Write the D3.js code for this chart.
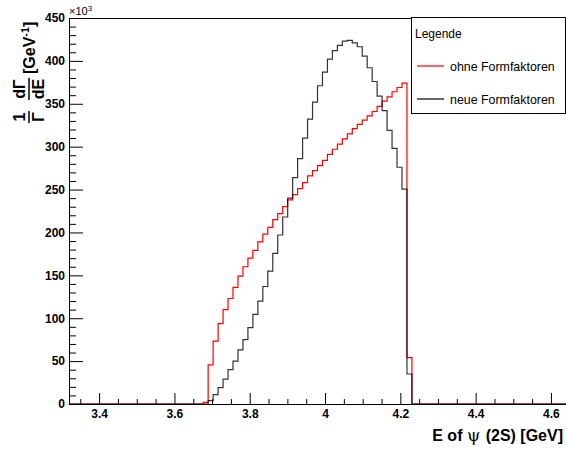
<!DOCTYPE html>
<html>
<head>
<meta charset="utf-8">
<script src="https://cdn.jsdelivr.net/npm/d3@7"></script>
<style>
  body { margin: 0; background: #fff; }
  text { font-family: "Liberation Sans", Arial, sans-serif; }
</style>
</head>
<body>
<div id="chart"></div>
<script>
// binning of the histograms (GeV)
const xMin = 3.32, xMax = 4.64, nBins = 100;

// bin contents in units of 10^3 (first filled bin given separately)
const redFirstBin = 27;
const redValues = [2, 45.5, 73.4, 93.6, 110, 123, 136, 149, 160, 170, 179, 189, 198, 206,
  215, 222, 230, 238, 244, 251, 258, 266, 272, 278, 284, 291, 297, 303, 309, 315, 321,
  326, 331, 336, 341, 347, 353, 358, 364, 369, 374, 54];
const blackFirstBin = 28;
const blackValues = [4, 11, 19, 29, 40, 50, 63, 75, 89, 104.5, 120, 137, 155, 175.6, 197,
  218, 240, 264, 286, 310, 332, 352, 371, 387, 402, 412, 418, 423, 424, 421, 416.5, 405.6,
  392, 376, 359, 342, 319, 298, 276, 250.6, 35];

const xTicks = [3.4, 3.6, 3.8, 4.0, 4.2, 4.4, 4.6];
const yTicks = [0, 50, 100, 150, 200, 250, 300, 350, 400, 450];
const legendLabels = ["ohne Formfaktoren", "neue Formfaktoren"];
const colors = ["#ff0000", "#000000"];

// layout
const W = 566, H = 452;
const margin = { top: 18, left: 69, bottom: 48 };
const plotBottom = H - margin.bottom;

const svg = d3.select("#chart").append("svg")
  .attr("width", W).attr("height", H);

const x = d3.scaleLinear().domain([xMin, xMax]).range([margin.left, margin.left + 497]);
const y = d3.scaleLinear().domain([0, 450]).range([plotBottom, margin.top]);

// full histogram arrays
function fullBins(first, vals) {
  const a = new Array(nBins).fill(0);
  vals.forEach((v, i) => { a[first + i] = v; });
  return a;
}
const binW = (xMax - xMin) / nBins;
function stepPath(arr) {
  let d = `M${x(xMin)},${y(0)}`;
  arr.forEach((v, i) => {
    const x0 = x(xMin + i * binW), x1 = x(xMin + (i + 1) * binW);
    d += `L${x0},${y(v)}L${x1},${y(v)}`;
  });
  d += `L${x(xMax)},${y(0)}`;
  return d;
}

// frame
svg.append("rect")
  .attr("x", margin.left + 0.5).attr("y", margin.top + 0.5)
  .attr("width", 520).attr("height", plotBottom - margin.top)
  .attr("fill", "none").attr("stroke", "#000");

// histograms
const hists = [fullBins(redFirstBin, redValues), fullBins(blackFirstBin, blackValues)];
hists.forEach((h, i) => {
  svg.append("path")
    .attr("d", stepPath(h))
    .attr("fill", "none")
    .attr("stroke", colors[i])
    .attr("stroke-opacity", i === 1 ? 0.8 : 1)
    .attr("stroke-width", 1.2);
});

// x axis
const xMinor = d3.range(3.35, 4.64, 0.05).filter(v => !xTicks.some(t => Math.abs(t - v) < 1e-6));
svg.append("g")
  .attr("transform", `translate(0,${plotBottom})`)
  .call(d3.axisBottom(x).tickValues(xMinor).tickSize(-5).tickFormat(""))
  .call(g => g.select(".domain").remove());
svg.append("g")
  .attr("transform", `translate(0,${plotBottom})`)
  .call(d3.axisBottom(x).tickValues(xTicks).tickSize(-11).tickPadding(5)
    .tickFormat(d => d3.format("")(+d.toFixed(1))))
  .call(g => g.select(".domain").remove())
  .call(g => g.selectAll("text").attr("font-size", 12).attr("font-weight", "bold")
    .attr("fill", "#000").style("font-family", "Liberation Sans, Arial, sans-serif"));

// y axis
const yMinor = d3.range(10, 450, 10).filter(v => v % 50 !== 0);
svg.append("g")
  .attr("transform", `translate(${margin.left},0)`)
  .call(d3.axisLeft(y).tickValues(yMinor).tickSize(-7).tickFormat(""))
  .call(g => g.select(".domain").remove());
svg.append("g")
  .attr("transform", `translate(${margin.left},0)`)
  .call(d3.axisLeft(y).tickValues(yTicks).tickSize(-14).tickPadding(4))
  .call(g => g.select(".domain").remove())
  .call(g => g.selectAll("text").attr("font-size", 12).attr("font-weight", "bold")
    .attr("fill", "#000").style("font-family", "Liberation Sans, Arial, sans-serif"));

// axis lines on top
svg.append("line").attr("x1", margin.left + 0.5).attr("x2", margin.left + 0.5)
  .attr("y1", margin.top).attr("y2", plotBottom).attr("stroke", "#000");
svg.append("line").attr("x1", margin.left).attr("x2", W)
  .attr("y1", plotBottom + 0.5).attr("y2", plotBottom + 0.5).attr("stroke", "#000");

// exponent label
const exp = svg.append("text").attr("x", margin.left).attr("y", 15).attr("font-size", 11);
exp.append("tspan").text("×10");
exp.append("tspan").attr("dy", -4).attr("font-size", 8).text("3");

// x title
const xt = svg.append("text").attr("x", 563).attr("y", 441)
  .attr("text-anchor", "end").attr("font-size", 16).attr("font-weight", "bold");
xt.append("tspan").text("E of  ");
xt.append("tspan").attr("font-weight", "normal").attr("font-size", 17)
  .style("font-family", "DejaVu Serif, serif").text("ψ ");
xt.append("tspan").text("(2S) [GeV]");

// y title (rotated, with fractions)
const yt = svg.append("g").attr("transform", "translate(29,0) rotate(-90)")
  .attr("font-weight", "bold");
function frac(u, num, den, w) {
  yt.append("text").attr("x", u).attr("y", -4).attr("text-anchor", "middle")
    .attr("font-size", 16).text(num);
  yt.append("text").attr("x", u).attr("y", 15).attr("text-anchor", "middle")
    .attr("font-size", 16).text(den);
  yt.append("line").attr("x1", u - w / 2).attr("x2", u + w / 2)
    .attr("y1", 0).attr("y2", 0).attr("stroke", "#000").attr("stroke-width", 1.5);
}
frac(-117, "1", "Γ", 12);
frac(-89, "dΓ", "dE", 22);
const gev = yt.append("text").attr("x", -74).attr("y", 6).attr("font-size", 16);
gev.append("tspan").text("[GeV");
gev.append("tspan").attr("dy", -6).attr("font-size", 11).text("-1");
gev.append("tspan").attr("dy", 6).text("]");

// legend
const lg = svg.append("g");
lg.append("rect").attr("x", 411.5).attr("y", 17.5).attr("width", 154).attr("height", 96)
  .attr("fill", "#fff").attr("stroke", "#000");
lg.append("text").attr("x", 415).attr("y", 38).attr("font-size", 12).text("Legende");
legendLabels.forEach((lab, i) => {
  const yy = 66 + i * 33;
  lg.append("line").attr("x1", 417).attr("x2", 444).attr("y1", yy).attr("y2", yy)
    .attr("stroke", colors[i]).attr("stroke-width", 1.2);
  lg.append("text").attr("x", 450).attr("y", yy + 4.5).attr("font-size", 12.4).text(lab);
});
</script>
</body>
</html>
